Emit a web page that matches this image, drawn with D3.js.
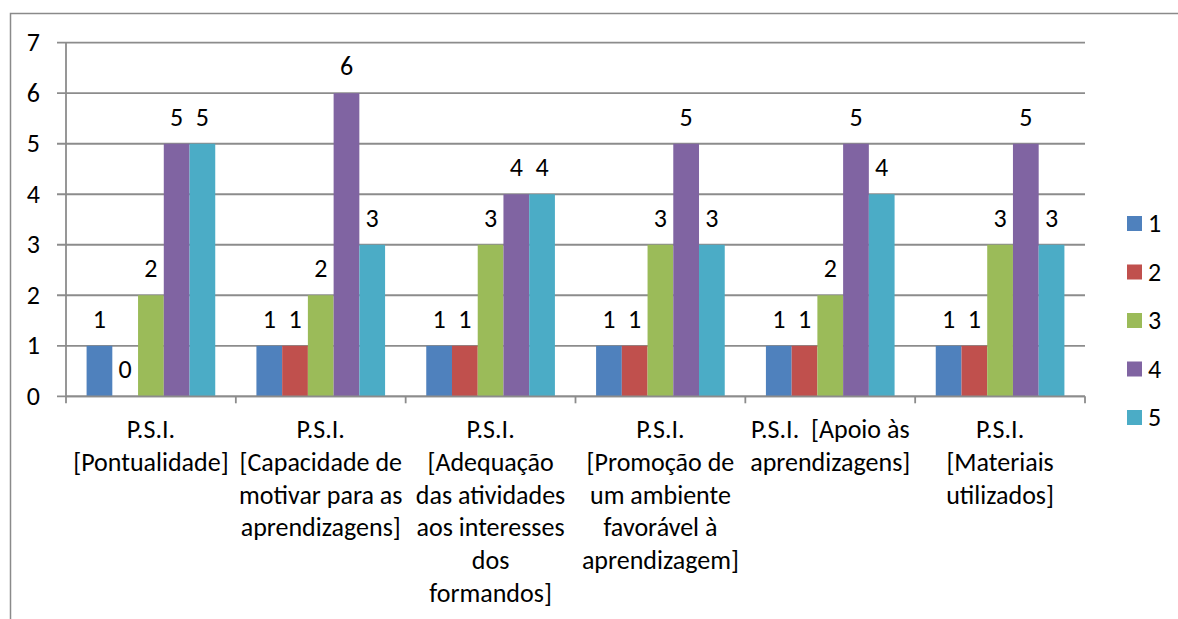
<!DOCTYPE html>
<html>
<head>
<meta charset="utf-8">
<script src="https://cdn.jsdelivr.net/npm/d3@7"></script>
<style>
  html, body { margin: 0; padding: 0; background: #fff; }
  svg { display: block; }
  text { font-family: Carlito, Calibri, Lato, sans-serif; fill: #000; }
</style>
</head>
<body>
<svg id="chart" width="1178" height="619"></svg>
<script>
// ---- data ----
const categories = [
  "P.S.I.\n[Pontualidade]",
  "P.S.I.\n[Capacidade de\nmotivar para as\naprendizagens]",
  "P.S.I.\n[Adequação\ndas atividades\naos interesses\ndos\nformandos]",
  "P.S.I.\n[Promoção de\num ambiente\nfavorável à\naprendizagem]",
  "P.S.I.  [Apoio às\naprendizagens]",
  "P.S.I.\n[Materiais\nutilizados]"
];
const seriesNames = ["1", "2", "3", "4", "5"];
const series1 = [1, 1, 1, 1, 1, 1];
const series2 = [0, 1, 1, 1, 1, 1];
const series3 = [2, 2, 3, 3, 2, 3];
const series4 = [5, 6, 4, 5, 5, 5];
const series5 = [5, 3, 4, 3, 4, 3];
const yTicks = [0, 1, 2, 3, 4, 5, 6, 7];
const colors = ["#4F81BD", "#C0504D", "#9BBB59", "#8064A2", "#4BACC6"];

const allSeries = [series1, series2, series3, series4, series5];

// ---- layout ----
const svg = d3.select("#chart");
const plot = { left: 66, right: 1085, top: 42.7, bottom: 396.3 };
const fontSize = 26;

// chart border
svg.append("rect")
  .attr("x", 10.5).attr("y", 13.5)
  .attr("width", 1200).attr("height", 700)
  .attr("fill", "none").attr("stroke", "#8a8a8a").attr("stroke-width", 1.5);

const x0 = d3.scaleBand().domain(d3.range(categories.length))
  .range([plot.left, plot.right]).paddingInner(0).paddingOuter(0);
const x1 = d3.scaleBand().domain(d3.range(seriesNames.length))
  .range([0, x0.bandwidth()]).paddingInner(0).paddingOuter(0.8);
const y = d3.scaleLinear().domain([0, 7]).range([plot.bottom, plot.top]);

// gridlines
svg.append("g").selectAll("line").data(yTicks).join("line")
  .attr("x1", plot.left - 9).attr("x2", plot.right)
  .attr("y1", d => y(d)).attr("y2", d => y(d))
  .attr("stroke", "#8c8c8c").attr("stroke-width", 1.8);

// y axis line
svg.append("line")
  .attr("x1", plot.left).attr("x2", plot.left)
  .attr("y1", plot.top).attr("y2", plot.bottom)
  .attr("stroke", "#8c8c8c").attr("stroke-width", 1.8);

// y tick labels
svg.append("g").selectAll("text").data(yTicks).join("text")
  .attr("x", 40).attr("y", d => y(d))
  .attr("dy", "0.33em").attr("text-anchor", "end")
  .style("font-size", fontSize + "px")
  .text(d => d);

// bars
const flat = [];
allSeries.forEach((s, si) => s.forEach((v, ci) => flat.push({ si, ci, v })));

svg.append("g").selectAll("rect").data(flat).join("rect")
  .attr("x", d => x0(d.ci) + x1(d.si))
  .attr("y", d => y(d.v))
  .attr("width", x1.bandwidth())
  .attr("height", d => y(0) - y(d.v))
  .attr("fill", d => colors[d.si]);

// x axis line + ticks
svg.append("line")
  .attr("x1", plot.left).attr("x2", plot.right)
  .attr("y1", y(0)).attr("y2", y(0))
  .attr("stroke", "#8c8c8c").attr("stroke-width", 1.8);
const xTickPos = d3.range(categories.length + 1).map(i => plot.left + i * x0.bandwidth());
svg.append("g").selectAll("line").data(xTickPos).join("line")
  .attr("x1", d => d).attr("x2", d => d)
  .attr("y1", y(0)).attr("y2", y(0) + 7)
  .attr("stroke", "#8c8c8c").attr("stroke-width", 1.8);

// data labels
svg.append("g").selectAll("text").data(flat).join("text")
  .attr("x", d => x0(d.ci) + x1(d.si) + x1.bandwidth() / 2)
  .attr("y", d => y(d.v) - 18)
  .attr("text-anchor", "middle")
  .style("font-size", fontSize + "px")
  .text(d => d.v);

// category labels
const catG = svg.append("g");
categories.forEach((c, i) => {
  const lines = c.split("\n");
  const t = catG.append("text")
    .attr("x", x0(i) + x0.bandwidth() / 2)
    .attr("y", 438)
    .attr("text-anchor", "middle")
    .style("font-size", fontSize + "px")
    .style("white-space", "pre");
  lines.forEach((l, li) => {
    t.append("tspan")
      .attr("x", x0(i) + x0.bandwidth() / 2)
      .attr("y", 438 + li * 32.8)
      .text(l);
  });
});

// legend
const legend = svg.append("g");
seriesNames.forEach((n, i) => {
  const cy = 223.5 + i * 48.5;
  legend.append("rect")
    .attr("x", 1127).attr("y", cy - 7.5)
    .attr("width", 15).attr("height", 15)
    .attr("fill", colors[i]);
  legend.append("text")
    .attr("x", 1148).attr("y", cy)
    .attr("dy", "0.33em")
    .style("font-size", fontSize + "px")
    .text(n);
});
</script>
</body>
</html>
